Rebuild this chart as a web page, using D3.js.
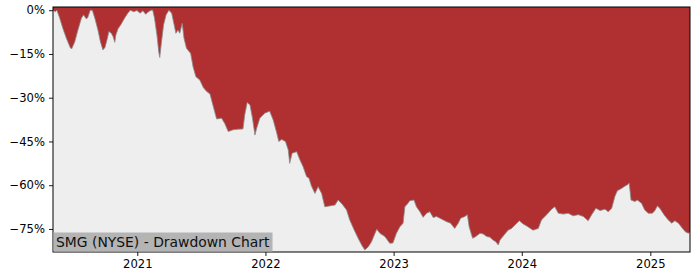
<!DOCTYPE html>
<html>
<head>
<meta charset="utf-8">
<script src="https://cdn.jsdelivr.net/npm/d3@7"></script>
<style>
  body { margin: 0; background: #fff; }
  text { font-family: "DejaVu Sans", sans-serif; }
</style>
</head>
<body>
<div id="chart"></div>
<script>
// drawdown series (percent below running peak)
var dates = [
  "2020-05-06","2020-05-13","2020-05-17","2020-05-25","2020-06-03","2020-06-13","2020-06-24","2020-06-28",
  "2020-07-07","2020-07-16","2020-07-26","2020-08-01","2020-08-09","2020-08-13","2020-08-20","2020-08-26",
  "2020-09-02","2020-09-11","2020-09-18","2020-09-25","2020-10-01","2020-10-08","2020-10-12","2020-10-19",
  "2020-10-24","2020-10-29","2020-11-01","2020-11-07","2020-11-16","2020-11-26","2020-12-05","2020-12-12",
  "2020-12-22","2020-12-31","2021-01-09","2021-01-17","2021-01-25","2021-01-31","2021-02-09","2021-02-14",
  "2021-02-19","2021-02-26","2021-03-03","2021-03-06","2021-03-11","2021-03-17","2021-03-24","2021-04-01",
  "2021-04-09","2021-04-15","2021-04-21","2021-04-27","2021-05-02","2021-05-09","2021-05-14","2021-05-21",
  "2021-06-02","2021-06-09","2021-06-17","2021-06-28","2021-07-08","2021-07-17","2021-07-27","2021-08-05",
  "2021-08-15","2021-08-29","2021-09-07","2021-09-17","2021-10-01","2021-10-15","2021-10-29","2021-11-03",
  "2021-11-10","2021-11-18","2021-11-25","2021-12-02","2021-12-07","2021-12-16","2021-12-30","2022-01-13",
  "2022-01-23","2022-02-02","2022-02-08","2022-02-16","2022-02-27","2022-03-07","2022-03-11","2022-03-18",
  "2022-03-31","2022-04-09","2022-04-18","2022-04-28","2022-05-05","2022-05-12","2022-05-22","2022-05-31",
  "2022-06-10","2022-06-19","2022-07-03","2022-07-18","2022-07-27","2022-08-07","2022-08-20","2022-08-29",
  "2022-09-11","2022-09-22","2022-10-02","2022-10-11","2022-10-21","2022-10-30","2022-11-09","2022-11-14",
  "2022-11-23","2022-12-07","2022-12-21","2022-12-30","2023-01-09","2023-01-19","2023-01-28","2023-02-02",
  "2023-02-11","2023-02-16","2023-02-28","2023-03-07","2023-03-17","2023-03-26","2023-04-05","2023-04-14",
  "2023-04-24","2023-05-03","2023-05-17","2023-06-01","2023-06-12","2023-06-24","2023-07-04","2023-07-11",
  "2023-07-23","2023-07-30","2023-08-04","2023-08-14","2023-08-23","2023-09-04","2023-09-13","2023-09-23",
  "2023-10-02","2023-10-11","2023-10-19","2023-10-26","2023-10-31","2023-11-14","2023-11-23","2023-12-03",
  "2023-12-12","2023-12-25","2024-01-05","2024-01-15","2024-02-02","2024-02-17","2024-02-26","2024-03-12",
  "2024-03-26","2024-04-04","2024-04-14","2024-04-28","2024-05-12","2024-05-26","2024-06-10","2024-06-24",
  "2024-07-08","2024-07-18","2024-07-30","2024-08-11","2024-08-25","2024-09-03","2024-09-13","2024-09-22",
  "2024-09-29","2024-10-11","2024-10-21","2024-10-27","2024-11-02","2024-11-07","2024-11-18","2024-11-25",
  "2024-12-07","2024-12-16","2024-12-26","2025-01-07","2025-01-14","2025-01-21","2025-01-28","2025-02-09",
  "2025-02-21","2025-03-03","2025-03-12","2025-03-22","2025-03-31","2025-04-10","2025-04-19","2025-04-24"
];
var drawdown = [
  0, -0.5, 0, -2.7, -6.2, -9.6, -12.8, -13.3,
  -10.8, -6.8, -2.7, -1.6, -3.0, -2.5, 0, 0,
  -2.7, -6.8, -10.8, -13.6, -12.8, -9.6, -7.3, -7.9,
  -9.0, -11.0, -8.5, -6.4, -4.8, -2.7, -1.0, 0,
  -0.5, -0.1, -1.0, -0.2, -1.4, -0.7, 0, 0,
  -2.7, -8.5, -14.2, -16.2, -10.8, -5.0, -1.6, 0,
  -1.0, -4.5, -7.9, -6.8, -7.9, -4.5, -9.6, -13.0,
  -14.8, -19.5, -22.8, -23.9, -26.5, -27.8, -28.7, -32.8,
  -37.3, -37.0, -38.8, -41.6, -41.0, -40.8, -40.7, -35.9,
  -31.6, -32.5, -37.0, -42.8, -40.5, -37.0, -35.3, -34.6,
  -37.6, -42.0, -45.0, -44.3, -45.0, -47.9, -52.5, -49.0,
  -48.5, -51.3, -53.6, -57.0, -57.6, -60.3, -62.8, -60.5,
  -62.8, -67.4, -67.1, -66.8, -65.1, -66.4, -68.5, -71.9,
  -75.4, -78.2, -80.5, -82.2, -81.1, -79.4, -76.5, -75.1,
  -76.5, -77.6, -79.9, -79.8, -76.5, -74.2, -73.0, -67.4,
  -66.2, -65.3, -65.1, -67.4, -69.1, -71.0, -69.6, -69.1,
  -71.1, -70.7, -71.6, -72.5, -73.0, -74.8, -73.0, -71.3,
  -70.7, -70.1, -74.2, -78.2, -77.6, -76.5, -76.7, -77.6,
  -77.8, -78.8, -79.4, -80.5, -78.8, -76.7, -75.4, -74.8,
  -73.7, -72.2, -73.3, -74.0, -75.4, -74.8, -71.9, -70.1,
  -68.2, -67.4, -69.6, -69.9, -69.6, -70.5, -70.1, -70.7,
  -72.2, -70.1, -67.9, -68.7, -68.2, -69.1, -67.9, -63.9,
  -61.9, -61.1, -60.3, -59.9, -59.3, -65.1, -65.6, -65.1,
  -66.2, -68.5, -69.6, -69.6, -68.7, -67.1, -67.9, -70.1,
  -71.9, -73.0, -72.2, -73.0, -74.4, -75.9, -76.5, -76.0
];
var yTicks = [0, -15, -30, -45, -60, -75];
var xTicks = ["2021-01-01", "2022-01-01", "2023-01-01", "2024-01-01", "2025-01-01"];
var xRange = ["2020-05-06", "2025-04-24"];
var yRange = [-82.9, 1.1];
var chartTitle = "SMG (NYSE) - Drawdown Chart";

var svgWidth = 700;
var svgHeight = 280;
var margin = { top: 7, right: 10, bottom: 28, left: 53 };
var width = svgWidth - margin.left - margin.right;
var height = svgHeight - margin.top - margin.bottom;

var parse = d3.timeParse("%Y-%m-%d");
var data = dates.map(function (d, i) {
  return { date: parse(d), dd: drawdown[i] };
});

var svg = d3.select("#chart")
  .append("svg")
  .attr("width", svgWidth)
  .attr("height", svgHeight);

var chartGroup = svg.append("g")
  .attr("transform", `translate(${margin.left}, ${margin.top})`);

var xScale = d3.scaleTime()
  .domain(xRange.map(parse))
  .range([0, width]);
var yScale = d3.scaleLinear()
  .domain(yRange)
  .range([height, 0]);

// plot background
chartGroup.append("rect")
  .attr("width", width)
  .attr("height", height)
  .attr("fill", "#eeeeee");

// red area from top of the plot down to the drawdown line
var area = d3.area()
  .x(d => xScale(d.date))
  .y0(0)
  .y1(d => yScale(d.dd));
chartGroup.append("path")
  .datum(data)
  .attr("d", area)
  .attr("fill", "#b03031");

var line = d3.line()
  .x(d => xScale(d.date))
  .y(d => yScale(d.dd));
chartGroup.append("path")
  .datum(data)
  .attr("d", line)
  .attr("fill", "none")
  .attr("stroke", "#8a8a8a")
  .attr("stroke-width", 0.8);

// axes
var bottomAxis = d3.axisBottom(xScale)
  .tickValues(xTicks.map(parse))
  .tickFormat(d3.timeFormat("%Y"))
  .tickSizeOuter(0)
  .tickSize(4)
  .tickPadding(4);
var leftAxis = d3.axisLeft(yScale)
  .tickValues(yTicks)
  .tickFormat(d => (d < 0 ? "\u2212" + Math.abs(d) : d) + "%")
  .tickSizeOuter(0)
  .tickSize(4)
  .tickPadding(4);

var xAxis = chartGroup.append("g")
  .attr("transform", `translate(0, ${height})`)
  .call(bottomAxis);
var yAxis = chartGroup.append("g")
  .call(leftAxis);

[xAxis, yAxis].forEach(function (ax) {
  ax.select(".domain").remove();
  ax.selectAll("line").attr("stroke", "#000").attr("stroke-width", 0.9);
  ax.selectAll("text")
    .attr("fill", "#000")
    .style("font-size", "11.6px")
    .style("font-family", "'DejaVu Sans', sans-serif");
});

// frame
chartGroup.append("rect")
  .attr("width", width)
  .attr("height", height)
  .attr("fill", "none")
  .attr("stroke", "#000")
  .attr("stroke-width", 1);

// label box bottom-left
var label = chartGroup.append("g");
var labelText = label.append("text")
  .attr("x", 3)
  .attr("y", height - 5)
  .attr("fill", "#111")
  .style("font-size", "13.9px")
  .text(chartTitle);
var bb = labelText.node().getBBox();
label.insert("rect", "text")
  .attr("x", 0.5)
  .attr("y", height - 19.5)
  .attr("width", bb.width + 5)
  .attr("height", 19)
  .attr("fill", "#b4b4b4");
</script>
</body>
</html>
